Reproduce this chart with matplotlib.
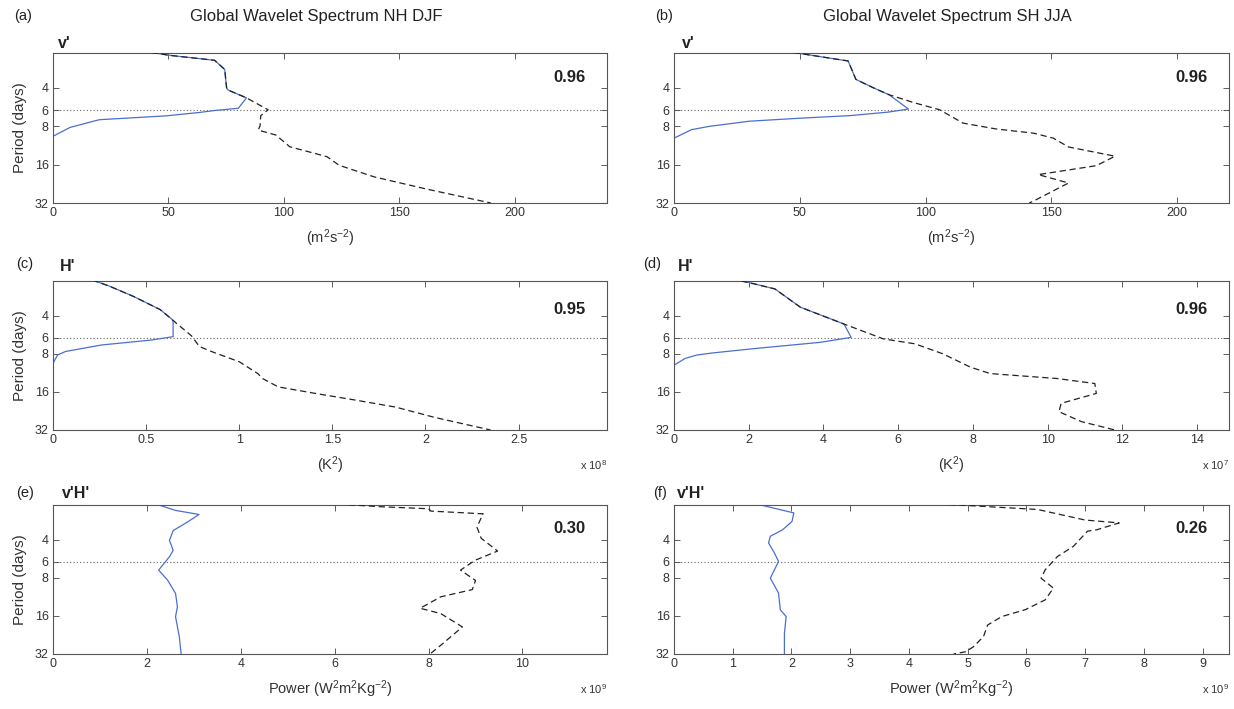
import matplotlib
matplotlib.use('Agg')
from matplotlib import pyplot as plt

plt.rcParams['font.family'] = ['Liberation Sans', 'DejaVu Sans']
plt.rcParams['mathtext.default'] = 'regular'

# x = power, y = period (days); dashed = full spectrum, blue = 2-6 day band
a_dash_x = [42.7, 50.4, 70, 74.4, 75.2, 76, 83.8, 93.2, 90, 89.7, 88.9, 96.6, 102.6, 113.7, 118.8, 124, 139.3, 161.5, 189.7]
a_dash_y = [2.11, 2.22, 2.43, 2.87, 4.0, 4.17, 4.79, 5.94, 6.6, 7.94, 8.57, 9.38, 11.6, 13.1, 13.9, 16.2, 20.0, 24.8, 32]
a_blue_x = [42.7, 50.4, 70, 74.4, 75.2, 76, 83.8, 80.3, 70, 63.6, 49, 20, 7.4, 0]
a_blue_y = [2.11, 2.22, 2.43, 2.87, 4.0, 4.17, 4.79, 5.78, 6.02, 6.23, 6.63, 7.11, 8.17, 9.58]

b_dash_x = [47.5, 69.2, 72.3, 79.3, 85.4, 95, 105.6, 114.9, 128, 142.9, 150.8, 156.8, 175.3, 167.9, 144.8, 156.8, 142.9, 141.2]
b_dash_y = [2.11, 2.46, 3.43, 4.0, 4.52, 5.2, 5.94, 7.56, 8.4, 9.06, 9.92, 11.63, 13.74, 16.3, 19.16, 22.3, 30.9, 32]
b_blue_x = [47.5, 69.2, 72.3, 79.3, 85.4, 93.2, 85, 70, 50, 30, 14.3, 7, 0]
b_blue_y = [2.11, 2.46, 3.43, 4.0, 4.52, 5.86, 6.2, 6.6, 6.92, 7.3, 8.0, 8.5, 9.92]

c_dash_x = [0.21, 0.30, 0.43, 0.575, 0.64, 0.66, 0.744, 0.786, 0.85, 1.0, 1.10, 1.125, 1.21, 1.42, 1.63, 1.84, 2.05, 2.35]
c_dash_y = [2.09, 2.33, 2.81, 3.58, 4.29, 4.56, 5.78, 7.01, 7.67, 9.25, 11.47, 12.55, 14.62, 16.56, 18.64, 21.1, 25.46, 32]
c_blue_x = [0.21, 0.30, 0.43, 0.575, 0.64, 0.645, 0.645, 0.53, 0.26, 0.068, 0.025, 0]
c_blue_y = [2.09, 2.33, 2.81, 3.58, 4.29, 4.5, 5.86, 6.23, 6.82, 7.67, 8.17, 9.51]

d_dash_x = [1.8, 2.0, 2.7, 3.38, 4.55, 5.6, 6.45, 7.19, 7.93, 8.46, 10.25, 11.26, 11.3, 10.36, 10.3, 10.9, 11.8]
d_dash_y = [2.13, 2.19, 2.46, 3.43, 4.66, 6.1, 6.68, 8.0, 10.2, 11.47, 12.55, 13.74, 16.45, 19.7, 22.94, 27.47, 32]
d_blue_x = [1.8, 2.0, 2.7, 3.38, 4.55, 4.74, 3.91, 2.11, 1.0, 0.6, 0.3, 0]
d_blue_y = [2.13, 2.19, 2.46, 3.43, 4.66, 5.94, 6.5, 7.3, 7.9, 8.2, 8.7, 9.85]

e_dash_x = [6.3, 7.0, 8.0, 8.05, 9.16, 9.03, 9.12, 9.47, 8.99, 8.68, 9.0, 8.93, 8.26, 7.82, 8.26, 8.72, 8.26, 8.03]
e_dash_y = [2.12, 2.2, 2.28, 2.38, 2.5, 3.18, 3.9, 4.92, 5.82, 6.96, 8.4, 9.92, 11.31, 13.93, 15.35, 19.56, 27.28, 32]
e_blue_x = [2.27, 2.61, 3.11, 2.86, 2.56, 2.48, 2.56, 2.48, 2.25, 2.44, 2.61, 2.65, 2.61, 2.69, 2.73]
e_blue_y = [2.14, 2.35, 2.53, 2.91, 3.39, 4.06, 4.86, 5.46, 6.96, 8.34, 10.63, 13.55, 16.22, 23.4, 32]

f_dash_x = [4.69, 6.19, 7.0, 7.58, 7.2, 7.04, 6.8, 6.53, 6.32, 6.25, 6.46, 6.32, 5.98, 5.58, 5.34, 5.27, 5.1, 4.97, 4.76]
f_dash_y = [2.11, 2.31, 2.8, 2.95, 3.34, 3.43, 4.52, 5.43, 6.92, 8.06, 9.65, 11.96, 14.3, 16.2, 18.9, 23.3, 28.0, 30.7, 32]
f_blue_x = [1.44, 2.04, 2.01, 1.85, 1.64, 1.61, 1.71, 1.78, 1.64, 1.78, 1.81, 1.91, 1.88, 1.88]
f_blue_y = [2.11, 2.46, 2.87, 3.34, 3.76, 4.25, 5.1, 5.94, 8.06, 10.56, 14.32, 16.2, 22.0, 32]

corr = ['0.96', '0.96', '0.95', '0.96', '0.30', '0.26']
letters = ['(a)', '(b)', '(c)', '(d)', '(e)', '(f)']
variables = ["v'", "v'", "H'", "H'", "v'H'", "v'H'"]
titles = ['Global Wavelet Spectrum NH DJF', 'Global Wavelet Spectrum SH JJA']
xlabels = [r'(m$^2$s$^{-2}$)', r'(K$^2$)', r'Power (W$^2$m$^2$Kg$^{-2}$)']
offsets = [None, None, r'x 10$^8$', r'x 10$^7$', r'x 10$^9$', r'x 10$^9$']
xlims = [240, 220.6, 2.975, 14.85, 11.8, 9.45]
xticks = [[0, 50, 100, 150, 200], [0, 50, 100, 150, 200],
          [0, 0.5, 1, 1.5, 2, 2.5], [0, 2, 4, 6, 8, 10, 12, 14],
          [0, 2, 4, 6, 8, 10], [0, 1, 2, 3, 4, 5, 6, 7, 8, 9]]
period_ticks = [4, 6, 8, 16, 32]

series = [(a_dash_x, a_dash_y, a_blue_x, a_blue_y),
          (b_dash_x, b_dash_y, b_blue_x, b_blue_y),
          (c_dash_x, c_dash_y, c_blue_x, c_blue_y),
          (d_dash_x, d_dash_y, d_blue_x, d_blue_y),
          (e_dash_x, e_dash_y, e_blue_x, e_blue_y),
          (f_dash_x, f_dash_y, f_blue_x, f_blue_y)]

W, H = 1234, 709
fig = plt.figure(figsize=(W / 100, H / 100), dpi=100)


def fx(px):
    return px / W


def fy(py):
    return 1 - py / H


col_left = [53, 674]
col_w = [554, 555]
row_top = [53, 281, 505]
row_h = [150, 149, 149]
var_y = [43, 266, 494]
letter_y = [16, 264, 493]
letter_x = [[14, 655], [16, 643], [16, 653]]
var_x = [[58, 682], [60, 678], [62, 677]]
corr_y = [0.835, 0.81, 0.84]

for i in range(6):
    r, c = divmod(i, 2)
    l, t, w, h = col_left[c], row_top[r], col_w[c], row_h[r]
    ax = fig.add_axes([fx(l), fy(t + h), fx(w), h / H])
    dx, dy, bx, by = series[i]
    ax.axhline(6, color='#666666', ls=(0, (1, 2)), lw=0.8, zorder=1)
    ax.plot(bx, by, color='#4a6fd0', lw=0.9, zorder=2)
    ax.plot(dx, dy, color='#222222', lw=0.9, ls=(0, (5, 3)), zorder=3)
    ax.set_yscale('log', base=2)
    ax.set_ylim(32, 2.13)
    ax.set_yticks(period_ticks)
    ax.set_yticklabels([str(p) for p in period_ticks])
    ax.minorticks_off()
    ax.set_xlim(0, xlims[i])
    ax.set_xticks(xticks[i])
    ax.set_xticklabels([('%g' % v) for v in xticks[i]])
    ax.tick_params(direction='in', top=True, right=True, length=4, width=0.6,
                   color='#444444', labelcolor='#333333', labelsize=9, pad=3)
    for s in ax.spines.values():
        s.set_color('#555555')
        s.set_linewidth(0.8)
    ax.text(0.962, corr_y[r], corr[i], transform=ax.transAxes, ha='right',
            va='center', fontsize=12, fontweight='bold', color='#222222')

    fig.text(fx(letter_x[r][c]), fy(letter_y[r]), letters[i], fontsize=10.5,
             ha='left', va='center', color='#222222')
    fig.text(fx(var_x[r][c]), fy(var_y[r]), variables[i], fontsize=11.5,
             ha='left', va='center', fontweight='bold', color='#222222')
    fig.text(fx(l + w / 2), fy(t + h + 35), xlabels[r], fontsize=10.5,
             ha='center', va='center', color='#333333')
    if offsets[i]:
        fig.text(fx(l + w), fy(t + h + 35), offsets[i], fontsize=8,
                 ha='right', va='center', color='#333333')
    if c == 0:
        fig.text(fx(20), fy(t + h / 2), 'Period (days)', rotation=90,
                 fontsize=11, ha='center', va='center', color='#333333')

fig.text(fx(316), fy(17), titles[0], fontsize=12, ha='center', va='center', color='#222222')
fig.text(fx(947), fy(17), titles[1], fontsize=12, ha='center', va='center', color='#222222')

fig.savefig('out.png', dpi=100)
